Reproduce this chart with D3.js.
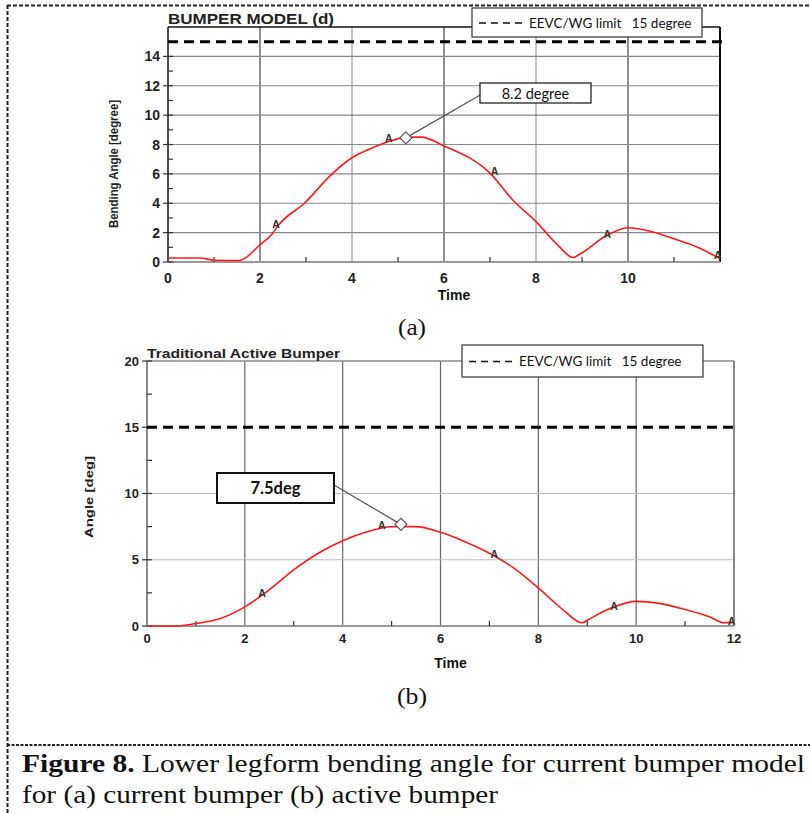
<!DOCTYPE html>
<html>
<head>
<meta charset="utf-8">
<script src="https://cdn.jsdelivr.net/npm/d3@7"></script>
<style>
  body { margin: 0; background: #fff; }
  svg { display: block; }
</style>
</head>
<body>
<svg id="fig" width="810" height="814"></svg>
<script>
// (a) current bumper model
var topTime  = [0, 0.7, 1.0, 1.55, 2.0, 2.25, 2.4, 3.0, 3.5, 4.0, 4.5, 4.9, 5.2, 5.5, 6.0, 7.0, 7.5, 8.0, 8.5, 8.8, 9.0, 9.5, 10.0, 10.5, 11.0, 11.5, 12.0];
var topAngle = [0.27, 0.27, 0.12, 0.1, 1.17, 1.85, 2.5, 4.1, 5.8, 7.1, 7.84, 8.3, 8.5, 8.5, 7.9, 6.05, 4.2, 2.75, 1.06, 0.31, 0.63, 1.74, 2.33, 2.08, 1.58, 1.02, 0.22];
var topMarkT = [2.35, 4.8, 7.1, 9.55, 11.95];
var topMarkY = [2.6, 8.45, 6.2, 1.9, 0.5];
var topXTicks = [0, 2, 4, 6, 8, 10];
var topYTicks = [0, 2, 4, 6, 8, 10, 12, 14];

// (b) traditional active bumper
var botTime  = [0, 0.6, 1.0, 1.5, 2.0, 2.5, 3.0, 3.5, 4.0, 4.5, 5.0, 5.5, 6.0, 6.5, 7.0, 7.5, 8.0, 8.5, 8.9, 9.0, 9.5, 10.0, 10.5, 11.0, 11.5, 11.8, 12.0];
var botAngle = [0, 0, 0.19, 0.56, 1.44, 2.74, 4.24, 5.49, 6.44, 7.11, 7.49, 7.5, 7.07, 6.36, 5.49, 4.37, 2.87, 1.24, 0.24, 0.44, 1.37, 1.86, 1.69, 1.24, 0.69, 0.24, 0.29];
var botMarkT = [2.35, 4.8, 7.1, 9.55, 11.95];
var botMarkY = [2.5, 7.6, 5.4, 1.5, 0.4];
var botXTicks = [0, 2, 4, 6, 8, 10, 12];
var botYTicks = [0, 5, 10, 15, 20];

var limit = 15;

var svg = d3.select("#fig");
var arial = "'Liberation Sans', Arial, sans-serif";
var calibri = "Lato, 'Open Sans', sans-serif";
var times = "'Liberation Serif', 'Times New Roman', serif";

// figure frame (dashed)
svg.append("line").attr("x1", 7).attr("x2", 810).attr("y1", 5.5).attr("y2", 5.5)
  .style("stroke", "#222").style("stroke-width", 2).style("stroke-dasharray", "4,2");
svg.append("line").attr("x1", 7.5).attr("x2", 7.5).attr("y1", 5).attr("y2", 814)
  .style("stroke", "#222").style("stroke-width", 2).style("stroke-dasharray", "4,2");
svg.append("line").attr("x1", 7).attr("x2", 810).attr("y1", 745).attr("y2", 745)
  .style("stroke", "#222").style("stroke-width", 2).style("stroke-dasharray", "3,1.5");

function drawChart(o) {
  var x = d3.scaleLinear().domain([0, 12]).range([o.left, o.right]);
  var y = d3.scaleLinear().domain([0, o.ymax]).range([o.bottom, o.top]);
  var g = svg.append("g");

  // grid
  o.xTicks.filter(function(d) { return d > 0 && d < 12; }).forEach(function(d, i) {
    g.append("line").attr("x1", x(d)).attr("x2", x(d)).attr("y1", o.top).attr("y2", o.bottom)
      .style("stroke", o.vGrid[i % 2]).style("stroke-width", 1.2);
  });
  o.yGrid.forEach(function(d) {
    g.append("line").attr("x1", o.left).attr("x2", o.right).attr("y1", y(d)).attr("y2", y(d))
      .style("stroke", o.hGridColor).style("stroke-width", 1.2);
  });

  // frame
  g.append("line").attr("x1", o.left).attr("x2", o.right).attr("y1", o.top).attr("y2", o.top)
    .style("stroke", o.topColor).style("stroke-width", 1.5);
  g.append("line").attr("x1", o.right).attr("x2", o.right).attr("y1", o.top).attr("y2", o.bottom)
    .style("stroke", o.topColor).style("stroke-width", 2);
  g.append("line").attr("x1", o.left).attr("x2", o.left).attr("y1", o.top).attr("y2", o.bottom)
    .style("stroke", o.leftColor).style("stroke-width", 1.5);
  g.append("line").attr("x1", o.left).attr("x2", o.right).attr("y1", o.bottom).attr("y2", o.bottom)
    .style("stroke", "#999").style("stroke-width", 2);

  // minor ticks
  d3.range(1, 12, 2).forEach(function(d) {
    g.append("line").attr("x1", x(d)).attr("x2", x(d)).attr("y1", o.bottom).attr("y2", o.bottom - 5)
      .style("stroke", "#333").style("stroke-width", 1.2);
  });
  o.yMinor.forEach(function(d) {
    g.append("line").attr("x1", o.left).attr("x2", o.left + 5).attr("y1", y(d)).attr("y2", y(d))
      .style("stroke", "#333").style("stroke-width", 1.2);
  });
  o.yTicks.forEach(function(d) {
    g.append("line").attr("x1", o.left - 5).attr("x2", o.left + 5).attr("y1", y(d)).attr("y2", y(d))
      .style("stroke", "#333").style("stroke-width", 1.2);
  });

  // tick labels
  g.selectAll(".xl").data(o.xTicks).enter().append("text")
    .attr("x", function(d) { return x(d); }).attr("y", o.bottom + o.xLabelDy)
    .attr("text-anchor", "middle").text(function(d) { return d; })
    .style("font-family", arial).style("font-weight", "bold").style("font-size", o.tickSize + "px").style("fill", "#222");
  g.selectAll(".yl").data(o.yTicks).enter().append("text")
    .attr("x", o.left - 8).attr("y", function(d) { return y(d) + o.tickSize * 0.36; })
    .attr("text-anchor", "end").text(function(d) { return d; })
    .style("font-family", arial).style("font-weight", "bold").style("font-size", o.tickSize + "px").style("fill", "#222");

  // titles
  g.append("text").attr("x", o.left).attr("y", o.top - 3).text(o.title)
    .attr("textLength", o.titleLen).attr("lengthAdjust", "spacingAndGlyphs")
    .style("font-family", arial).style("font-weight", "bold").style("font-size", o.titleSize + "px").style("fill", "#222");
  g.append("text").attr("x", (o.left + o.right) / 2 + 10).attr("y", o.bottom + o.timeDy).attr("text-anchor", "middle").text("Time")
    .style("font-family", arial).style("font-weight", "bold").style("font-size", "14px").style("fill", "#111");
  g.append("text").attr("transform", "translate(" + o.ylabX + "," + o.ylabY + ") rotate(-90)")
    .attr("text-anchor", "middle").text(o.ylabel)
    .attr("textLength", o.ylabLen).attr("lengthAdjust", "spacingAndGlyphs")
    .style("font-family", arial).style("font-weight", "bold").style("font-size", o.ylabSize + "px").style("fill", "#222");

  // limit line
  g.append("line").attr("x1", x(0)).attr("x2", x(12) + 2).attr("y1", y(limit)).attr("y2", y(limit))
    .style("stroke", "#000").style("stroke-width", 3).style("stroke-dasharray", "10,6");

  // curve
  var pts = o.time.map(function(t, i) { return [t, o.angle[i]]; });
  var line = d3.line().x(function(d) { return x(d[0]); }).y(function(d) { return y(d[1]); })
    .curve(d3.curveMonotoneX);
  g.append("path").attr("d", line(pts))
    .style("fill", "none").style("stroke", "#ff1a1a").style("stroke-width", 1.6);

  // "A" markers
  o.markT.forEach(function(t, i) {
    g.append("text").attr("x", x(t)).attr("y", y(o.markY[i]) + 4).attr("text-anchor", "middle").text("A")
      .style("font-family", arial).style("font-weight", "bold").style("font-size", "10.5px").style("fill", "#333");
  });

  // legend
  var lg = o.legend;
  g.append("rect").attr("x", lg[0]).attr("y", lg[1]).attr("width", lg[2]).attr("height", lg[3])
    .style("fill", "#fff").style("stroke", "#333").style("stroke-width", 1.2);
  g.append("line").attr("x1", lg[0] + 7).attr("x2", lg[0] + 50).attr("y1", lg[1] + lg[3] / 2 + 0.5).attr("y2", lg[1] + lg[3] / 2 + 0.5)
    .style("stroke", "#111").style("stroke-width", 1.6).style("stroke-dasharray", "7,5");
  g.append("text").attr("x", lg[0] + 57).attr("y", lg[1] + lg[3] / 2 + 5).text("EEVC/WG limit   15 degree")
    .attr("xml:space", "preserve").style("white-space", "pre")
    .style("font-family", calibri).style("font-size", "13.5px").style("fill", "#111");

  // callout
  var c = o.callout;
  var dx = x(c.t), dy = y(c.v);
  g.append("line").attr("x1", c.from[0]).attr("y1", c.from[1]).attr("x2", dx).attr("y2", dy)
    .style("stroke", "#555").style("stroke-width", 1.2);
  g.append("path").attr("d", "M" + (dx - 6) + "," + dy + "L" + dx + "," + (dy - 6) + "L" + (dx + 6) + "," + dy + "L" + dx + "," + (dy + 6) + "Z")
    .style("fill", "#fff").style("stroke", "#555").style("stroke-width", 1.2);
  g.append("rect").attr("x", c.box[0]).attr("y", c.box[1]).attr("width", c.box[2]).attr("height", c.box[3])
    .style("fill", "#fff").style("stroke", "#111").style("stroke-width", c.stroke);
  g.append("text").attr("x", c.box[0] + c.box[2] / 2).attr("y", c.box[1] + c.box[3] / 2 + 5.5).attr("text-anchor", "middle")
    .text(c.label).style("font-family", calibri).style("font-size", c.size + "px").style("font-weight", c.weight).style("fill", "#111");
}

drawChart({
  left: 168, right: 720, top: 27, bottom: 262, ymax: 16,
  time: topTime, angle: topAngle, markT: topMarkT, markY: topMarkY,
  xTicks: topXTicks, yTicks: topYTicks, yGrid: [2, 4, 6, 8, 10, 12, 14],
  yMinor: [1, 3, 5, 7, 9, 11, 13], vGrid: ["#444", "#999"], hGridColor: "#888",
  topColor: "#111", leftColor: "#111",
  tickSize: 14, xLabelDy: 21, timeDy: 38, titleSize: 14, titleLen: 166,
  title: "BUMPER MODEL (d)",
  ylabel: "Bending Angle [degree]", ylabX: 118, ylabY: 164, ylabLen: 128, ylabSize: 12.5,
  legend: [472, 8, 230, 29],
  callout: { t: 5.17, v: 8.45, from: [482, 94], box: [480, 83, 111, 20], label: "8.2 degree", size: 14.5, weight: "normal", stroke: 1.2 }
});

drawChart({
  left: 147, right: 734, top: 361, bottom: 626, ymax: 20,
  time: botTime, angle: botAngle, markT: botMarkT, markY: botMarkY,
  xTicks: botXTicks, yTicks: botYTicks, yGrid: [5, 10],
  yMinor: [2.5, 7.5, 12.5, 17.5], vGrid: ["#666", "#666"], hGridColor: "#bbb",
  topColor: "#888", leftColor: "#666",
  tickSize: 13, xLabelDy: 17, timeDy: 42, titleSize: 13, titleLen: 193,
  title: "Traditional Active Bumper",
  ylabel: "Angle [deg]", ylabX: 93, ylabY: 497, ylabLen: 82, ylabSize: 11.5,
  legend: [462, 345, 241, 32],
  callout: { t: 5.19, v: 7.67, from: [334, 485], box: [217, 473, 117, 30], label: "7.5deg", size: 16.5, weight: "bold", stroke: 2 }
});

// sub captions
svg.append("text").attr("x", 412).attr("y", 335).attr("text-anchor", "middle").text("(a)")
  .attr("textLength", 28).attr("lengthAdjust", "spacingAndGlyphs")
  .style("font-family", times).style("font-size", "23px").style("fill", "#111");
svg.append("text").attr("x", 412).attr("y", 704).attr("text-anchor", "middle").text("(b)")
  .attr("textLength", 30).attr("lengthAdjust", "spacingAndGlyphs")
  .style("font-family", times).style("font-size", "23px").style("fill", "#111");

// figure caption
var cap = svg.append("text").attr("x", 22).attr("y", 772)
  .attr("textLength", 783).attr("lengthAdjust", "spacingAndGlyphs")
  .style("font-family", times).style("font-size", "25px").style("fill", "#111");
cap.append("tspan").style("font-weight", "bold").text("Figure 8.");
cap.append("tspan").text(" Lower legform bending angle for current bumper model");
svg.append("text").attr("x", 22).attr("y", 803).text("for (a) current bumper (b) active bumper")
  .attr("textLength", 476).attr("lengthAdjust", "spacingAndGlyphs")
  .style("font-family", times).style("font-size", "25px").style("fill", "#111");
</script>
</body>
</html>
